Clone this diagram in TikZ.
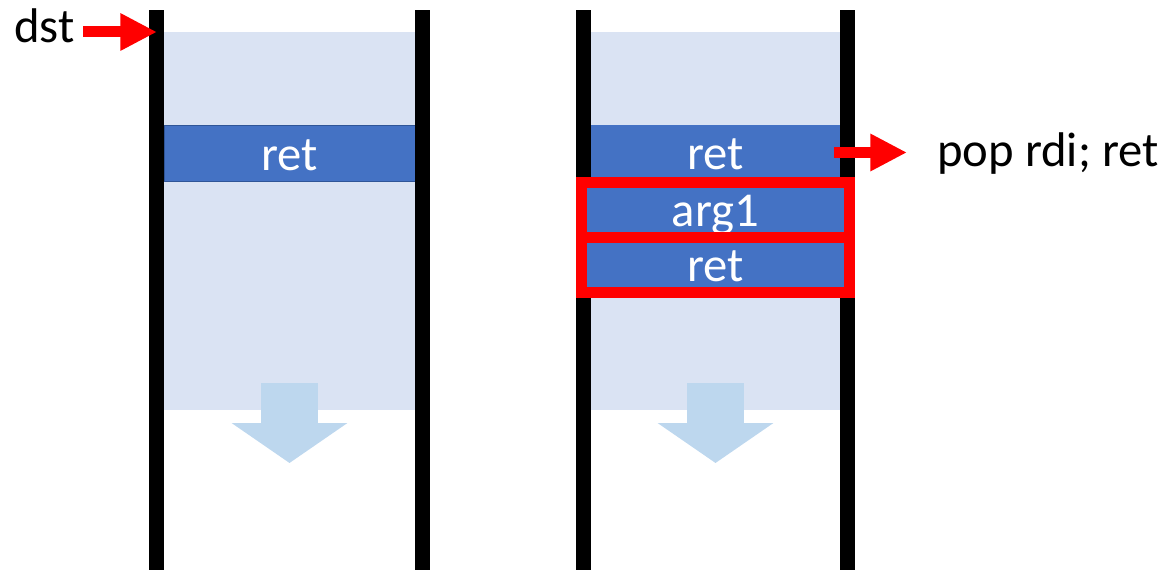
\documentclass[tikz,border=0pt]{standalone}
\usepackage{fontspec}
\setmainfont{Carlito}
\usetikzlibrary{arrows.meta}
\definecolor{lightbg}{HTML}{DAE3F3}
\definecolor{slotblue}{HTML}{4472C4}
\definecolor{slotedge}{HTML}{2F5597}
\definecolor{downblue}{HTML}{BDD7EE}
\definecolor{hotred}{HTML}{FF0000}
\tikzset{
  x=0.75pt, y=-0.75pt,
  bigtext/.style={font=\fontsize{36.5}{42}\selectfont},
  bar/.style={fill=black, draw=none},
  region/.style={fill=lightbg, draw=none},
  slot/.style={rectangle, fill=slotblue, inner sep=0pt, text=white, bigtext,
     text height=24.75pt, text depth=0pt},
  redslot/.style={slot, draw=hotred, line width=8.25pt,
     minimum width=201pt, minimum height=41.25pt},
  redarrow/.style={draw=hotred, line width=8.25pt,
     -{Triangle[length=27.5pt, width=26.25pt, fill=hotred]}},
  downarrow/.style={draw=downblue, line width=42.75pt,
     -{Triangle[length=30pt, width=85.5pt, fill=downblue]}},
}
\begin{document}
\begin{tikzpicture}
\useasboundingbox (0,0) rectangle (1159,570);
% light stack regions
\fill[region] (164,32) rectangle (415,410);
\fill[region] (591,32) rectangle (840,410);
% growth arrows
\coordinate (dl1) at (289.5,383);
\coordinate (dl2) at (289.5,463);
\coordinate (dr1) at (715.5,383);
\coordinate (dr2) at (715.5,463);
\draw[downarrow] (dl1) -- (dl2);
\draw[downarrow] (dr1) -- (dr2);
% ret slots
\node[slot, draw=slotedge, line width=0.75pt, minimum width=188.25pt, minimum height=42pt] (retL) at (289.5,154) {ret};
\node[slot, minimum width=186.75pt, minimum height=42.75pt] (retR) at (715.5,153.5) {ret};
% bars
\fill[bar] (149,10) rectangle (164,570);
\fill[bar] (415,10) rectangle (430,570);
\fill[bar] (576,10) rectangle (591,570);
\fill[bar] (840,10) rectangle (855,570);
% injected chain
\node[redslot] (arg) at (715.5,210) {arg1};
\node[redslot] (ret2) at (715.5,265) {ret};
% labels and arrows
\node[bigtext, anchor=base east, inner sep=0pt] (dst) at (75,43) {dst};
\coordinate (dsts) at (83,32);
\coordinate (dstt) at (157,32);
\draw[redarrow] (dsts) -- (dstt);
\node[bigtext, anchor=base west, inner sep=0pt] (pop) at (937,167) {pop rdi; ret};
\coordinate (pops) at (834,152.5);
\coordinate (popt) at (907,152.5);
\draw[redarrow] (pops) -- (popt);
\end{tikzpicture}
\end{document}
